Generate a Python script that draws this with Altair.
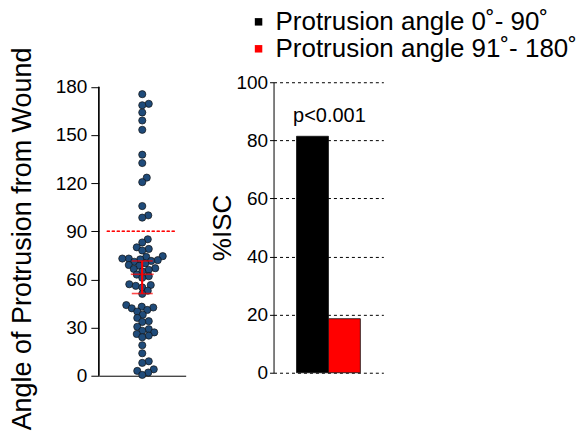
import altair as alt
import numpy as np
import pandas as pd

# ---- data ----
angles = [175.4, 169.4, 168.5, 164.0, 159.0, 153.2, 137.7, 132.5, 123.4, 120.6,
          105.7, 99.9, 98.5,
          85.0, 83.0, 80.0, 79.0, 78.0, 74.5, 74.0, 73.0, 73.0, 72.5, 72.0, 71.5,
          71.0, 70.0, 69.0, 68.5, 67.0, 66.5, 66.0, 65.0, 63.0, 62.0, 61.0,
          57.0, 56.5, 56.0, 55.0, 53.0, 51.0,
          44.0, 43.0, 42.5, 42.0, 41.0, 40.0,
          38.0, 36.0, 34.0, 33.5, 30.5,
          29.0, 28.0, 27.0, 26.0, 25.0, 24.0,
          19.0, 14.0,
          9.0, 8.0, 4.0, 3.0, 2.0, 0.5]
median_angle = 63.2
ci_low = 51.2
ci_high = 71.5
threshold = 90
angle_ticks = [0, 30, 60, 90, 120, 150, 180]

groups = ["Protrusion angle 0˚- 90˚", "Protrusion angle 91˚- 180˚"]
isc_pct = [81.4, 18.6]
bar_colors = ["#000000", "#ff0000"]
pct_ticks = [0, 20, 40, 60, 80, 100]
p_label = "p<0.001"
p_label_y = 88.3

FONT = "Liberation Sans"

# ---- beeswarm layout computed from the values ----
H_L = 294
PX_PER_DEG = 1.608
DOT = 6.3
xs = [0.0] * len(angles)
placed = []
cands = [0.0] + [s * k * 0.5 for k in range(1, 80) for s in (1, -1)]
for i in np.argsort(angles, kind="stable"):
    yp = angles[i] * PX_PER_DEG
    for c in cands:
        if all((c - px) ** 2 + (yp - py) ** 2 >= DOT ** 2 for px, py in placed):
            xs[i] = c
            placed.append((c, yp))
            break

df_pts = pd.DataFrame({"angle": angles, "off": xs})
df_err = pd.DataFrame({"v": [ci_low, median_angle, ci_high], "w": [21, 23, 21]})

y_left = alt.Scale(domain=[0, H_L / PX_PER_DEG], nice=False, zero=False)
x_left = alt.Scale(domain=[-43.5, 43.5], nice=False, zero=False)

pts = alt.Chart(df_pts).mark_circle(
    size=52, fill="#1f4b7a", stroke="#111111", strokeWidth=0.7, opacity=1
).encode(
    x=alt.X("off:Q", scale=x_left,
            axis=alt.Axis(title=None, labels=False, ticks=False, grid=False,
                          domain=True, domainColor="black", domainWidth=1)),
    y=alt.Y("angle:Q", scale=y_left,
            axis=alt.Axis(values=angle_ticks, title="Angle of Protrusion from Wound",
                          domain=False, grid=False, tickSize=8, labelPadding=4,
                          titlePadding=19, titleFontSize=27, titleY=156.5)),
)

axis_line = alt.Chart(df_err).mark_rule(color="black", strokeWidth=1).encode(
    x=alt.value(0), y=alt.datum(0), y2=alt.datum(180)
)

thr = alt.Chart(df_err).mark_rule(color="#ff0000", strokeDash=[3, 2], strokeWidth=1).encode(
    y=alt.datum(threshold), x=alt.value(8), x2=alt.value(76)
)

err_v = alt.Chart(df_err).mark_rule(color="#ff0000", strokeWidth=1.6).encode(
    x=alt.datum(0), y=alt.datum(ci_low), y2=alt.datum(ci_high)
)
err_t = alt.Chart(df_err).mark_tick(orient="horizontal", color="#ff0000", thickness=1.6).encode(
    x=alt.datum(0), y="v:Q", size=alt.Size("w:Q", scale=None, legend=None)
)

left = alt.layer(axis_line, thr, pts, err_v, err_t).properties(width=87, height=H_L)

df_bar = pd.DataFrame({"group": groups, "pct": isc_pct})
df_p = pd.DataFrame({"label": [p_label], "y": [p_label_y]})

y_right = alt.Scale(domain=[0, 100], nice=False)

bars = alt.Chart(df_bar).mark_bar(stroke="#111111", strokeWidth=0.8).encode(
    x=alt.X("group:N", sort=groups,
            scale=alt.Scale(paddingInner=0, paddingOuter=0.72), axis=None),
    y=alt.Y("pct:Q", scale=y_right,
            axis=alt.Axis(values=pct_ticks, title="%ISC", grid=True, gridDash=[3, 3],
                          gridColor="black", gridOpacity=1, gridWidth=1,
                          tickSize=4, labelPadding=2, titlePadding=0)),
    color=alt.Color("group:N", sort=groups,
                    scale=alt.Scale(domain=groups, range=bar_colors),
                    legend=alt.Legend(title=None, orient="none", legendX=147, legendY=-73.5,
                                      symbolType="square", symbolSize=56,
                                      symbolStrokeWidth=0, labelFontSize=26,
                                      labelOffset=4, rowPadding=1, labelLimit=400)),
)

ptext = alt.Chart(df_p).mark_text(fontSize=20, font=FONT, color="black", baseline="middle").encode(
    x=alt.value(56), y=alt.Y("y:Q", scale=y_right), text="label:N"
)

right = alt.layer(bars, ptext).properties(width=110, height=291)

chart = alt.hconcat(left, right, spacing=24).resolve_scale(
    x="independent", y="independent"
).properties(
    padding={"left": 0, "top": 0, "right": 0, "bottom": 0}
).configure(font=FONT).configure_view(stroke=None).configure_axis(
    labelColor="black", tickColor="black", domainColor="black", titleColor="black",
    labelFontSize=19, titleFontSize=26, titleFontWeight="normal",
    labelFont=FONT, titleFont=FONT, tickWidth=1
).configure_legend(labelColor="black", labelFont=FONT)

chart.save("out.html", embed_options={"renderer": "svg", "actions": False})
